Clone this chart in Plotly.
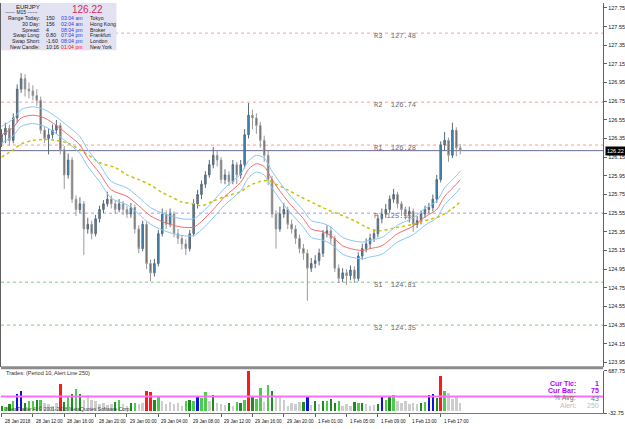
import plotly.graph_objects as go

# ---------------- data ----------------
bar_index = list(range(118))

opens = [126.30,126.39,126.46,126.33,126.57,126.88,126.99,126.88,126.86,126.81,
         126.76,126.44,126.35,126.39,126.44,126.49,126.23,125.96,126.12,125.70,
         125.59,125.65,125.38,125.43,125.33,125.49,125.59,125.65,125.70,125.65,
         125.59,125.65,125.59,125.54,125.61,125.38,125.17,125.43,125.01,124.91,
         125.01,125.33,125.54,125.43,125.54,125.33,125.28,125.22,125.17,125.33,
         125.65,125.75,125.86,125.96,126.07,126.17,126.12,125.91,125.96,125.89,
         126.07,125.96,126.07,126.39,126.60,126.57,126.49,126.33,126.17,125.91,
         125.54,125.38,125.54,125.59,125.43,125.38,125.28,125.17,125.12,124.96,
         125.01,125.04,125.12,125.33,125.36,125.28,124.96,124.85,124.91,124.88,
         124.94,124.85,125.09,125.17,125.22,125.28,125.33,125.49,125.54,125.59,
         125.70,125.75,125.65,125.59,125.54,125.57,125.43,125.47,125.54,125.59,
         125.61,125.70,125.91,126.28,126.33,126.17,126.44,126.25]
highs = [126.45,126.52,126.50,126.62,126.93,127.05,127.04,126.95,126.92,126.88,
         126.80,126.48,126.45,126.50,126.55,126.52,126.27,126.19,126.15,125.74,
         125.72,125.68,125.50,125.47,125.53,125.63,125.69,125.78,125.74,125.69,
         125.70,125.68,125.63,125.66,125.64,125.42,125.47,125.46,125.05,125.06,
         125.37,125.60,125.58,125.60,125.57,125.38,125.31,125.27,125.37,125.70,
         125.80,125.90,126.00,126.12,126.26,126.22,126.15,126.02,126.00,126.12,
         126.10,126.12,126.45,126.73,126.66,126.62,126.53,126.38,126.22,125.95,
         125.58,125.62,125.66,125.62,125.48,125.42,125.32,125.22,125.16,125.07,
         125.10,125.17,125.37,125.42,125.40,125.31,125.00,124.96,124.95,124.99,
         124.98,125.13,125.22,125.28,125.33,125.38,125.53,125.60,125.65,125.74,
         125.81,125.78,125.68,125.62,125.62,125.60,125.52,125.58,125.63,125.66,
         125.75,125.96,126.32,126.42,126.36,126.52,126.47,126.29]
lows = [126.26,126.30,126.27,126.30,126.52,126.84,126.80,126.78,126.76,126.70,
        126.40,126.30,126.18,126.35,126.40,126.18,125.81,125.92,125.66,125.52,
        125.55,125.10,125.33,125.27,125.30,125.45,125.55,125.62,125.60,125.54,
        125.56,125.53,125.50,125.50,125.33,125.12,125.14,124.95,124.82,124.87,
        124.98,125.30,125.38,125.40,125.29,125.22,125.16,125.10,125.14,125.30,
        125.60,125.70,125.82,125.93,126.03,126.05,125.87,125.86,125.84,125.86,
        125.86,125.92,126.03,126.35,126.45,126.40,126.25,126.10,125.85,125.50,
        125.17,125.35,125.50,125.38,125.33,125.22,125.12,125.05,124.61,124.92,
        124.96,124.99,125.08,125.29,125.22,124.92,124.80,124.81,124.78,124.83,
        124.80,124.82,125.05,125.13,125.17,125.24,125.29,125.44,125.50,125.55,
        125.66,125.60,125.52,125.48,125.45,125.35,125.39,125.43,125.50,125.55,
        125.57,125.66,125.88,126.22,126.10,126.14,126.16,126.18]
closes = [126.39,126.46,126.33,126.57,126.88,126.99,126.88,126.86,126.81,126.76,
          126.44,126.35,126.39,126.44,126.49,126.23,125.96,126.12,125.70,125.59,
          125.65,125.38,125.43,125.33,125.49,125.59,125.65,125.70,125.65,125.59,
          125.65,125.59,125.54,125.61,125.38,125.17,125.43,125.01,124.91,125.01,
          125.33,125.54,125.43,125.54,125.33,125.28,125.22,125.17,125.33,125.65,
          125.75,125.86,125.96,126.07,126.17,126.12,125.91,125.96,125.89,126.07,
          125.96,126.07,126.39,126.60,126.57,126.49,126.33,126.17,125.91,125.54,
          125.38,125.54,125.59,125.43,125.38,125.28,125.17,125.12,124.96,125.01,
          125.04,125.12,125.33,125.36,125.28,124.96,124.85,124.91,124.88,124.94,
          124.85,125.09,125.17,125.22,125.28,125.33,125.49,125.54,125.59,125.70,
          125.75,125.65,125.59,125.54,125.57,125.43,125.47,125.54,125.59,125.61,
          125.70,125.91,126.28,126.33,126.17,126.44,126.25,126.22]

env_idx = [0,3,5,8,11,14,17,20,22,25,28,32,35,38,41,43,46,49,51,54,57,61,63,65,67,69,72,74,
           77,79,82,84,87,89,92,94,97,101,105,108,111,113,116,117]
env_mid = [126.39,126.47,126.57,126.60,126.57,126.49,126.39,126.28,126.14,125.98,125.80,125.73,
           125.63,125.52,125.46,125.43,125.40,125.40,125.46,125.59,125.73,125.88,126.02,126.08,
           126.05,125.91,125.73,125.63,125.49,125.38,125.35,125.31,125.20,125.17,125.15,125.17,
           125.20,125.33,125.41,125.51,125.59,125.73,125.86,125.91]
env_upper = [126.48,126.56,126.66,126.69,126.66,126.58,126.48,126.37,126.23,126.07,125.89,125.82,
             125.72,125.61,125.55,125.52,125.49,125.49,125.55,125.68,125.82,125.97,126.11,126.17,
             126.14,126.00,125.82,125.72,125.58,125.47,125.44,125.40,125.29,125.26,125.24,125.26,
             125.29,125.42,125.50,125.60,125.68,125.82,125.95,126.00]
env_lower = [126.30,126.38,126.48,126.51,126.48,126.40,126.30,126.19,126.05,125.89,125.71,125.64,
             125.54,125.43,125.37,125.34,125.31,125.31,125.37,125.50,125.64,125.79,125.93,125.99,
             125.96,125.82,125.64,125.54,125.40,125.29,125.26,125.22,125.11,125.08,125.06,125.08,
             125.11,125.24,125.32,125.42,125.50,125.64,125.77,125.82]

slow_idx = [0,3,5,8,11,14,17,20,23,25,29,32,35,38,41,43,46,49,51,54,57,61,63,66,68,70,73,76,
            79,83,86,90,93,96,100,105,108,112,115,117]
slow_ma = [126.15,126.23,126.29,126.33,126.34,126.33,126.30,126.23,126.15,126.09,
           126.04,125.96,125.91,125.85,125.77,125.73,125.67,125.65,125.63,125.68,
           125.73,125.78,125.84,125.89,125.90,125.86,125.80,125.73,125.67,125.59,
           125.54,125.47,125.40,125.36,125.39,125.43,125.47,125.52,125.60,125.67]

trades = [100,80,120,180,300,350,150,180,170,200,
          190,150,120,100,140,470,160,250,300,380,
          300,200,280,200,170,130,150,110,130,160,
          190,120,100,140,150,120,140,350,330,200,
          270,180,130,160,120,150,100,180,190,170,
          250,230,330,180,280,140,120,110,150,90,
          160,140,190,680,260,220,400,160,450,350,
          270,260,200,100,140,130,160,160,260,110,
          170,120,170,180,210,150,180,100,120,100,
          160,150,140,120,90,110,130,270,200,240,
          280,170,140,180,130,150,120,150,160,280,
          300,230,600,350,320,220,250,150]
trade_state = ['G','L','G','L','B','B','G','L','L','G',
               'L','S','S','S','S','R','G','L','G','L',
               'G','S','S','S','S','S','S','S','S','G',
               'L','S','S','G','L','S','S','R','R','G',
               'L','S','S','S','S','S','S','L','G','L',
               'B','L','L','S','G','S','S','S','G','S',
               'L','G','L','R','G','L','L','S','L','G',
               'S','S','S','S','S','S','S','G','B','S',
               'G','S','G','L','G','G','L','S','S','S',
               'G','L','G','S','S','S','G','B','L','G',
               'L','S','S','S','S','S','S','G','L','B',
               'B','G','R','L','S','S','S','S']

price_ticks = [127.75,127.55,127.35,127.15,126.95,126.75,126.55,126.35,126.15,125.95,
               125.75,125.55,125.35,125.15,124.95,124.75,124.55,124.35,124.15,123.95]
trade_ticks = [687.75, -32.75]
time_tick_idx = [0,8,16,24,32,40,48,56,64,72,80,88,96,104,112]
time_tick_labels = ["28 Jan 2018","28 Jan 12:00","28 Jan 16:00","28 Jan 20:00","29 Jan 00:00",
                    "29 Jan 04:00","29 Jan 08:00","29 Jan 12:00","29 Jan 16:00","29 Jan 20:00",
                    "1 Feb 01:00","1 Feb 05:00","1 Feb 09:00","1 Feb 13:00","1 Feb 17:00"]

pivot_names = ["R3","R2","R1","P","S1","S2"]
pivot_values = [127.48,126.74,126.28,125.55,124.81,124.35]
last_price = 126.22
alert_level = 250

symbol = "EURJPY"
timeframe = "M15"
info_labels = ["Range Today:","30 Day:","Spread:","Swap Long:","Swap Short:","New Candle:"]
info_values = ["150","156","4","0.80","-1.60","10:16"]
session_times = ["03:04 am","02:04 am","08:04 pm","07:04 pm","08:04 pm","01:04 pm"]
session_cities = ["Tokyo","Hong Kong","Broker","Frankfurt","London","New York"]
stat_labels = ["Cur Tic:","Cur Bar:","% Avg:","Alert:"]
stat_values = ["1","75","43","250"]

# ---------------- layout helpers ----------------
W, H = 625, 429
PLOT_R = 605          # px of right price axis
BAR_X0 = 0.5          # px of first bar
BAR_PX = 3.94         # px per bar
MAIN_TOP, MAIN_BOT = 0, 369
SUB_TOP, SUB_BOT = 373, 416
P_TOP_PX, P_TOP_VAL = 5.0, 127.75
P_BOT_PX, P_BOT_VAL = 364.5, 123.95
ppu = (P_BOT_PX - P_TOP_PX) / (P_TOP_VAL - P_BOT_VAL)
y_range = [P_BOT_VAL - (MAIN_BOT - P_BOT_PX) / ppu, P_TOP_VAL + (P_TOP_PX - MAIN_TOP) / ppu]
x_range = [-BAR_X0 / BAR_PX, (PLOT_R - BAR_X0) / BAR_PX]

def fx(px): return px / W
def fy(py): return 1 - py / H

FONT = "Liberation Sans"
MONO = "Liberation Mono"

fig = go.Figure()

# pivot labels (under candles)
fig.add_trace(go.Scatter(
    x=[95] * len(pivot_values), y=pivot_values, mode="text",
    text=[f"{n}  {v:.2f}" for n, v in zip(pivot_names, pivot_values)],
    textposition="bottom right",
    textfont=dict(family=MONO, size=7, color="#6a6a6a"),
    hoverinfo="skip", xaxis="x", yaxis="y"))

fig.add_trace(go.Candlestick(
    x=bar_index, open=opens, high=highs, low=lows, close=closes,
    increasing=dict(fillcolor="#2f8fc8", line=dict(color="#5a6a7a", width=1)),
    decreasing=dict(fillcolor="#555555", line=dict(color="#9a9a9a", width=1)),
    whiskerwidth=0, xaxis="x", yaxis="y", hoverinfo="skip"))

fig.add_trace(go.Scatter(x=slow_idx, y=slow_ma, mode="lines",
    line=dict(color="#c8c400", width=1.5, dash="dot", shape="spline", smoothing=0.8),
    xaxis="x", yaxis="y", hoverinfo="skip"))
for arr, col in [(env_upper, "#8cc4f4"), (env_lower, "#8cc4f4"), (env_mid, "#f46a6a")]:
    fig.add_trace(go.Scatter(x=env_idx, y=arr, mode="lines",
        line=dict(color=col, width=1, shape="spline", smoothing=0.8),
        xaxis="x", yaxis="y", hoverinfo="skip"))

state_colors = {"S": "#cdcdcd", "G": "#1f8a1f", "L": "#4ccc4c", "B": "#1010e0", "R": "#ff1a1a"}
fig.add_trace(go.Bar(x=bar_index, y=trades, width=0.62,
    marker=dict(color=[state_colors[s] for s in trade_state], line=dict(width=0)),
    xaxis="x", yaxis="y2", hoverinfo="skip"))

shapes = []
pivot_colors = ["#ff9a9a", "#ff9a9a", "#ff9a9a", "#9a9aff", "#7ccc7c", "#7ccc7c"]
for v, c in zip(pivot_values, pivot_colors):
    shapes.append(dict(type="line", xref="paper", yref="y", x0=0, x1=fx(PLOT_R), y0=v, y1=v,
                       line=dict(color=c, width=1, dash="dot"), layer="below"))
shapes.append(dict(type="line", xref="paper", yref="y", x0=0, x1=fx(PLOT_R), y0=last_price, y1=last_price,
                   line=dict(color="#6c6c98", width=1), layer="below"))
shapes.append(dict(type="line", xref="paper", yref="y2", x0=0, x1=fx(PLOT_R), y0=alert_level, y1=alert_level,
                   line=dict(color="#ff6cff", width=2), layer="above"))
# separator between panels
shapes.append(dict(type="rect", xref="paper", yref="paper", x0=0, x1=fx(PLOT_R),
                   y0=fy(371.5), y1=fy(368.5), fillcolor="#8c8c8c", line=dict(width=0), layer="above"))
# info box
shapes.append(dict(type="rect", xref="paper", yref="paper", x0=0, x1=fx(116), y0=fy(48), y1=1,
                   fillcolor="#e2e2f2", line=dict(width=0), layer="above"))

ann = []
def text(px, py, s, size=6, color="#202020", anchor="left", bold=False, family=FONT, **kw):
    ann.append(dict(x=fx(px), y=fy(py), xref="paper", yref="paper", text=f"<b>{s}</b>" if bold else s,
                    showarrow=False, xanchor=anchor, yanchor="middle",
                    font=dict(family=family, size=size, color=color), **kw))

# info box content
text(27, 4, symbol, size=6, anchor="center")
text(21, 9.5, f"------ {timeframe} ------", size=5, anchor="center")
text(87, 7, f"{last_price:.2f}", size=10, color="#e0245c", anchor="center")
row_y = [15.5, 21.3, 27, 32.8, 38.6, 44.3]
for i, yy in enumerate(row_y):
    text(41, yy, info_labels[i], size=5.2, anchor="right")
    text(43, yy, info_values[i], size=5.2)
    text(58, yy, session_times[i], size=5.2, color="#ff1010" if i == 5 else "#1f3fe0")
    text(87, yy, session_cities[i], size=5.2)

# indicator texts
text(3, 375.5, "Trades: (Period 10, Alert Line 250)", size=5.5, color="#303030")
text(3, 412, "MetaTrader 4, © 2001-2018 MetaQuotes Software Corp.", size=5, color="#404040")
stat_colors = ["#b400ff", "#b400ff", "#707070", "#bdbdbd"]
stat_y = [386, 393.5, 401, 408.5]
for i in range(4):
    b = i < 2
    text(580, stat_y[i], stat_labels[i], size=7, color=stat_colors[i], anchor="right", bold=b)
    text(603, stat_y[i], stat_values[i], size=7, color=stat_colors[i], anchor="right", bold=b)

# price tag
ann.append(dict(x=fx(607), y=last_price, xref="paper", yref="y", text=f"{last_price:.2f}",
                showarrow=False, xanchor="left", yanchor="middle", bgcolor="#000000", borderpad=1,
                font=dict(family=FONT, size=5.5, color="#ffffff")))

# time labels (left aligned like MT4)
for idx, lab in zip(time_tick_idx, time_tick_labels):
    ann.append(dict(x=idx, y=fy(424.5), xref="x", yref="paper", text=lab, showarrow=False,
                    xanchor="left", yanchor="middle", xshift=1,
                    font=dict(family=FONT, size=4.6, color="#101010")))

axis_font = dict(family=FONT, size=5.5, color="#202020")
fig.update_layout(
    width=W, height=H, margin=dict(l=0, r=0, t=0, b=0),
    paper_bgcolor="white", plot_bgcolor="white", showlegend=False,
    boxgap=0.45, bargap=0,
    xaxis=dict(domain=[0, fx(PLOT_R)], range=x_range, anchor="y2", showgrid=False, zeroline=False,
               showline=True, linecolor="#7a7a7a", ticks="outside", ticklen=3, tickcolor="#606060",
               tickvals=time_tick_idx, showticklabels=False, rangeslider=dict(visible=False)),
    yaxis=dict(domain=[fy(MAIN_BOT), fy(MAIN_TOP)], range=y_range, anchor="x", side="right",
               tickvals=price_ticks, ticktext=[f"{v:.2f}" for v in price_ticks], tickfont=axis_font,
               ticks="outside", ticklen=3, tickcolor="#606060", showline=True, mirror=True,
               linecolor="#606060", showgrid=False, zeroline=False),
    yaxis2=dict(domain=[fy(SUB_BOT), fy(SUB_TOP)], range=[-32.75, 687.75], anchor="x", side="right",
                tickvals=trade_ticks, ticktext=[f"{v:.2f}" for v in trade_ticks], tickfont=axis_font,
                ticks="outside", ticklen=3, tickcolor="#606060", showline=True, linecolor="#606060",
                showgrid=False, zeroline=False),
    shapes=shapes, annotations=ann,
)

fig.write_html("out.html")
